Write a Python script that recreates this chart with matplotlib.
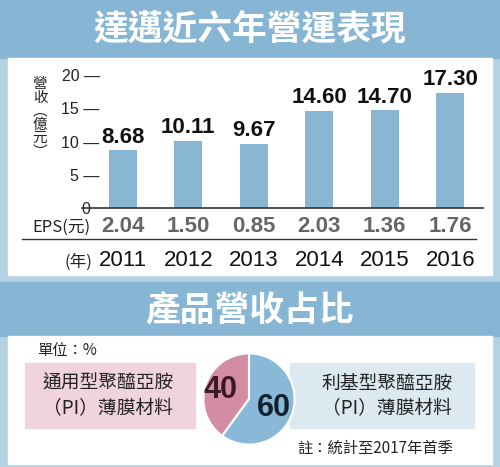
import matplotlib
matplotlib.use("Agg")
import matplotlib.pyplot as plt
from matplotlib.patches import Rectangle
from matplotlib.transforms import blended_transform_factory

plt.rcParams['font.family'] = ['Noto Sans CJK TC', 'DejaVu Sans']
NUM = ['Liberation Sans', 'Noto Sans CJK TC']

years = ['2011', '2012', '2013', '2014', '2015', '2016']
revenue = [8.68, 10.11, 9.67, 14.60, 14.70, 17.30]
eps = ['2.04', '1.50', '0.85', '2.03', '1.36', '1.76']
share_labels = ['通用型聚醯亞胺\n（PI）薄膜材料', '利基型聚醯亞胺\n（PI）薄膜材料']
share = [40, 60]

W, H = 500, 467
fig = plt.figure(figsize=(5, 4.67), dpi=100)
fig.patch.set_facecolor('#b3d3e5')

def fx(x):
    return x / W

def fy(y):
    return 1 - y / H

def box(x0, y0, x1, y1, color):
    fig.patches.append(Rectangle((fx(x0), fy(y1)), fx(x1 - x0), (y1 - y0) / H,
                                 transform=fig.transFigure, color=color, zorder=-10))

# bands and panels
box(0, 0, 500, 58, '#86b6d3')
box(8, 58, 492, 275, 'white')
box(0, 282, 500, 336, '#86b6d3')
box(8, 336, 492, 464, 'white')
box(25, 363, 195, 428, '#f1d3dc')
box(290, 363, 474, 428, '#dce9f1')

fig.text(fx(250), fy(30), '達邁近六年營運表現', ha='center', va='center',
         color='white', fontsize=25, fontweight='bold')
fig.text(fx(250), fy(310), '產品營收占比', ha='center', va='center',
         color='white', fontsize=25, fontweight='bold')

# bar chart
ax = fig.add_axes([fx(90), fy(208), 393 / W, 133 / H])
ax.set_facecolor('none')
x = range(len(years))
ax.bar(x, revenue, width=0.43, color='#88b6d3')
for i, v in enumerate(revenue):
    ax.text(i, v + 0.4, f'{v:.2f}', ha='center', va='bottom', fontsize=16,
            fontweight='bold', color='#111111', family=NUM)
ax.set_xlim(-0.5, 5.5)
ax.set_ylim(0, 20)
ax.set_yticks([0, 5, 10, 15, 20])
ax.set_yticklabels(['0  ', '5 —', '10 —', '15 —', '20 —'], fontsize=11.5,
                   color='#222222', family=NUM)
ax.tick_params(axis='y', length=0, pad=-7)
ax.set_xticks([])
for s in ax.spines.values():
    s.set_visible(False)
ax.axhline(0, color='#333333', lw=1.2, xmin=-0.02, xmax=1.0, clip_on=False)

tr = blended_transform_factory(ax.transData, fig.transFigure)
for i in x:
    ax.text(i, fy(226), eps[i], transform=tr, ha='center', va='center',
            fontsize=16, fontweight='bold', color='#666666', family=NUM)
    ax.text(i, fy(260), years[i], transform=tr, ha='center', va='center',
            fontsize=16, color='#111111', family=NUM)
fig.text(fx(32), fy(227), 'EPS(元)', ha='left', va='center', fontsize=12, color='#222222')
fig.text(fx(64), fy(262), '(年)', ha='left', va='center', fontsize=12, color='#222222')
fig.lines.append(plt.Line2D([fx(22), fx(476)], [fy(239), fy(239)],
                            transform=fig.transFigure, color='#333333', lw=1))
fig.text(fx(40), fy(118), '營\n收\n︵\n億\n元\n︶', ha='center', va='center',
         fontsize=10.5, color='#222222', linespacing=0.95)

# pie
r = 57
pax = fig.add_axes([fx(249 - r), fy(399 + r), 2 * r / W, 2 * r / H])
pax.pie(share, colors=['#d48ba4', '#8ab9d7'], startangle=90, counterclock=True,
        wedgeprops=dict(edgecolor='white', linewidth=1.5))
pax.set_aspect('auto')
fig.text(fx(221), fy(390), str(share[0]), ha='center', va='center', fontsize=22,
         fontweight='bold', color='#3a1a24', family=NUM)
fig.text(fx(274), fy(408), str(share[1]), ha='center', va='center', fontsize=22,
         fontweight='bold', color='#10222e', family=NUM)

fig.text(fx(108), fy(396), share_labels[0], ha='center', va='center', fontsize=13.5,
         color='#222222', linespacing=1.3)
fig.text(fx(387), fy(396), share_labels[1], ha='center', va='center', fontsize=13.5,
         color='#222222', linespacing=1.3)
fig.text(fx(37), fy(351), '單位：%', ha='left', va='center', fontsize=11, color='#222222')
fig.text(fx(297), fy(448), '註：統計至2017年首季', ha='left', va='center', fontsize=11,
         color='#222222')

fig.savefig('out.png', dpi=100, facecolor=fig.get_facecolor())
